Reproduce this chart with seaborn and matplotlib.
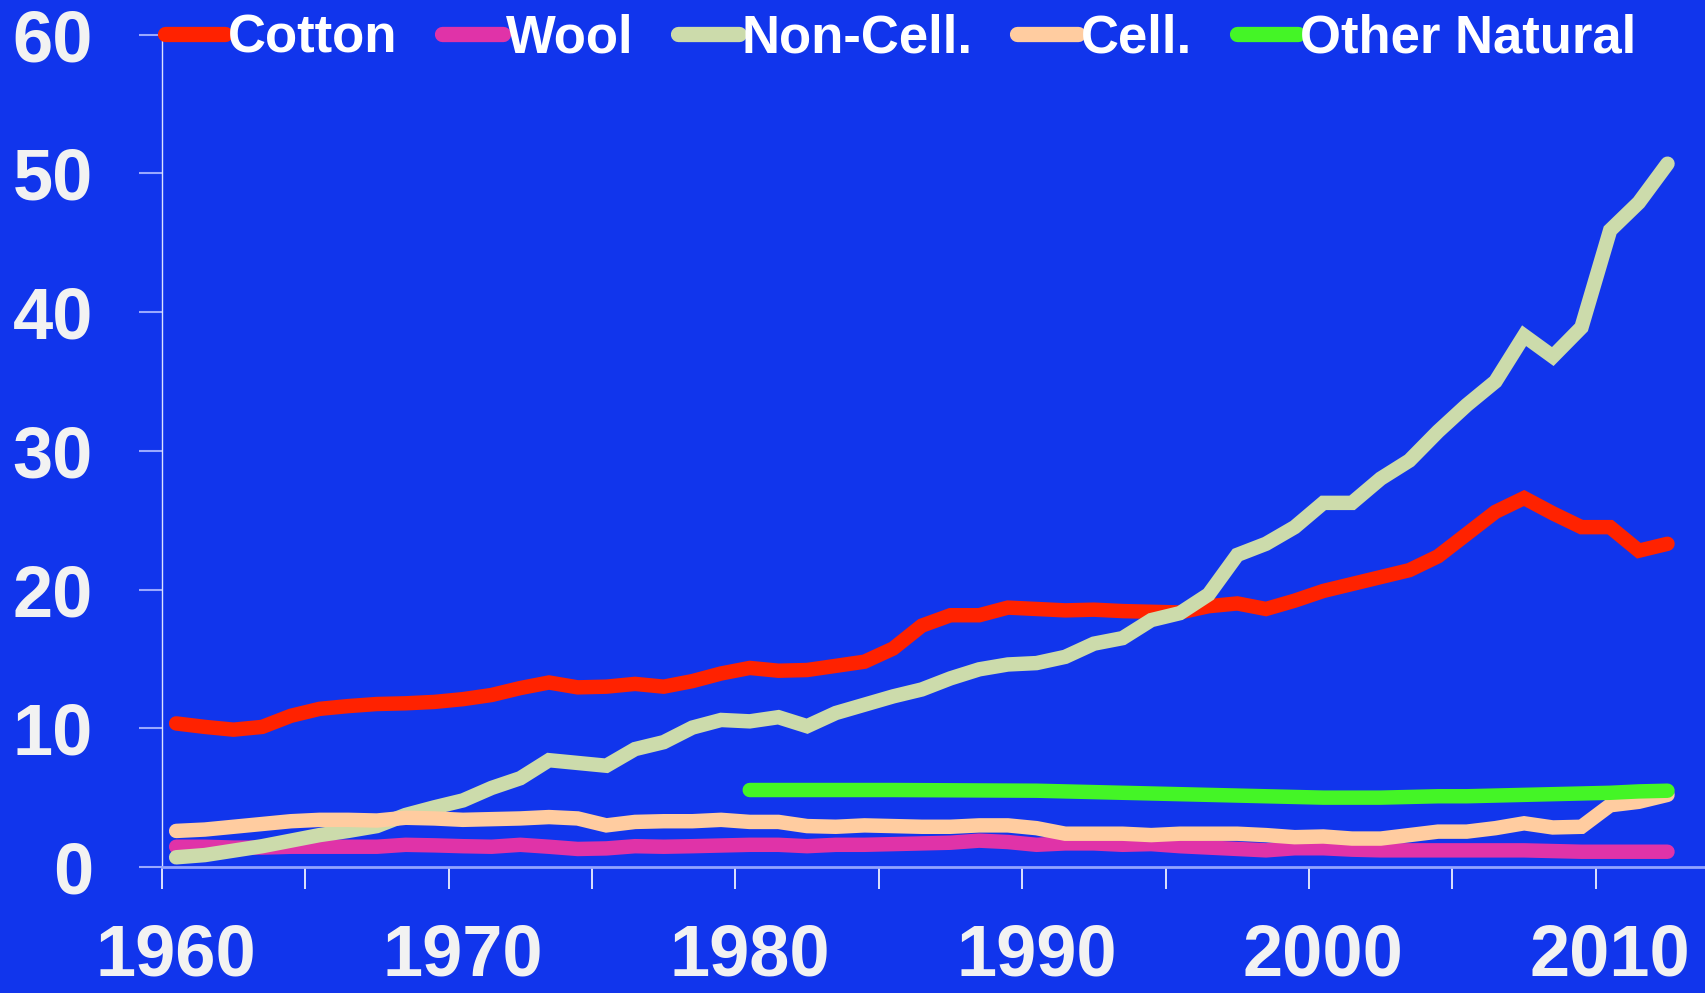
import numpy as np
import pandas as pd
import matplotlib
matplotlib.use("Agg")
import matplotlib.pyplot as plt
from matplotlib.lines import Line2D
from matplotlib.ticker import FixedLocator
import seaborn as sns

years = list(range(1960, 2013))
cotton = [10.35, 10.1, 9.9, 10.1, 10.9, 11.4, 11.6, 11.75, 11.8, 11.9,
          12.1, 12.4, 12.9, 13.3, 12.95, 13.0, 13.2, 13.0, 13.4, 13.95,
          14.35, 14.15, 14.2, 14.5, 14.8, 15.75, 17.4, 18.15, 18.15, 18.7,
          18.6, 18.5, 18.55, 18.45, 18.4, 18.35, 18.8, 19.0, 18.6, 19.2,
          19.9, 20.4, 20.9, 21.4, 22.4, 24.0, 25.6, 26.6, 25.5, 24.5,
          24.5, 22.8, 23.3]
wool = [1.46, 1.46, 1.4, 1.4, 1.46, 1.46, 1.46, 1.46, 1.6, 1.56,
        1.5, 1.46, 1.6, 1.46, 1.3, 1.34, 1.5, 1.46, 1.5, 1.55,
        1.6, 1.6, 1.5, 1.6, 1.6, 1.65, 1.7, 1.75, 1.9, 1.8,
        1.6, 1.7, 1.7, 1.6, 1.65, 1.5, 1.4, 1.3, 1.2, 1.35,
        1.35, 1.25, 1.2, 1.2, 1.2, 1.2, 1.2, 1.2, 1.15, 1.1,
        1.1, 1.1, 1.1]
non_cell = [0.7, 0.86, 1.18, 1.5, 1.9, 2.3, 2.6, 2.95, 3.75, 4.3,
            4.8, 5.7, 6.4, 7.7, 7.5, 7.3, 8.5, 9.0, 10.05, 10.6,
            10.5, 10.8, 10.15, 11.1, 11.7, 12.3, 12.8, 13.6, 14.25, 14.6,
            14.7, 15.15, 16.1, 16.5, 17.8, 18.3, 19.65, 22.5, 23.3, 24.5,
            26.25, 26.25, 28.0, 29.3, 31.4, 33.3, 35.0, 38.3, 36.8, 38.9,
            45.9, 47.9, 50.7]
cell = [2.6, 2.7, 2.9, 3.1, 3.3, 3.4, 3.4, 3.35, 3.55, 3.5,
        3.4, 3.45, 3.5, 3.6, 3.5, 3.0, 3.25, 3.3, 3.3, 3.4,
        3.25, 3.25, 2.95, 2.9, 3.0, 2.95, 2.9, 2.9, 3.0, 3.0,
        2.8, 2.4, 2.4, 2.4, 2.3, 2.4, 2.4, 2.4, 2.3, 2.15,
        2.2, 2.05, 2.05, 2.3, 2.55, 2.55, 2.8, 3.15, 2.85, 2.9,
        4.45, 4.7, 5.2]
other_years = list(range(1980, 2013))
other_natural = [5.55, 5.55, 5.55, 5.55, 5.55, 5.55, 5.54, 5.53, 5.52, 5.51,
                 5.5, 5.45, 5.4, 5.35, 5.3, 5.25, 5.2, 5.15, 5.1, 5.05,
                 5.0, 5.0, 5.0, 5.05, 5.1, 5.1, 5.15, 5.2, 5.25, 5.3,
                 5.35, 5.45, 5.5]

series_names = ["Cotton", "Wool", "Non-Cell.", "Cell.", "Other Natural"]
series_colors = ["#FF2200", "#E033A8", "#CCDBAB", "#FFCCA0", "#44F526"]
y_ticks = [0, 10, 20, 30, 40, 50, 60]
x_labels = [1960, 1970, 1980, 1990, 2000, 2010]

frames = []
for name, xs, ys in [("Cotton", years, cotton), ("Wool", years, wool),
                     ("Non-Cell.", years, non_cell), ("Cell.", years, cell),
                     ("Other Natural", other_years, other_natural)]:
    frames.append(pd.DataFrame({"year": xs, "value": ys, "series": name}))
df = pd.concat(frames, ignore_index=True)

BG = "#1135EC"
TXT = "#F2F2F2"

sns.set_theme(style="white")
plt.rcParams["font.family"] = ["Liberation Sans", "DejaVu Sans"]

fig = plt.figure(figsize=(17.05, 9.93), dpi=100, facecolor=BG)
ax = fig.add_axes([161.8 / 1705, 126 / 993, 1 - 161.8 / 1705, (867 - 34.7) / 993])
ax.set_facecolor(BG)

sns.lineplot(data=df, x="year", y="value", hue="series", hue_order=series_names,
             palette=dict(zip(series_names, series_colors)), linewidth=10.4,
             solid_capstyle="round", solid_joinstyle="miter", legend=False,
             sort=False, estimator=None, ax=ax)

ax.set_xlim(1959.5, 1959.5 + (1705 - 161.8) / 28.68)
ax.set_ylim(0, 60)
ax.set_xlabel("")
ax.set_ylabel("")

for s in ["top", "right"]:
    ax.spines[s].set_visible(False)
ax.spines["left"].set_color("#DCE2FF")
ax.spines["left"].set_linewidth(1.0)
ax.spines["bottom"].set_color("#93A3FF")
ax.spines["bottom"].set_linewidth(2.0)

ax.set_yticks(y_ticks)
ax.set_yticklabels([str(v) for v in y_ticks])
ax.tick_params(axis="y", which="major", left=True, direction="out", length=16.5,
               width=1.5, color="#9AA8FF", pad=33, labelsize=52, labelcolor=TXT)
for lab in ax.get_yticklabels():
    lab.set_fontweight("bold")

ax.set_xticks(x_labels)
ax.set_xticklabels([str(v) for v in x_labels])
ax.xaxis.set_minor_locator(FixedLocator([1959.5 + 5 * i for i in range(11)]))
ax.tick_params(axis="x", which="major", bottom=True, length=0, pad=40,
               labelsize=52, labelcolor=TXT)
ax.tick_params(axis="x", which="minor", bottom=True, direction="out", length=15.5,
               width=1.2, color="#FFFFFF")
for lab in ax.get_xticklabels():
    lab.set_fontweight("bold")
ax.grid(False)

handles = [Line2D([0], [0], color=c, linewidth=11, solid_capstyle="round")
           for c in series_colors]
leg = fig.legend(handles, series_names, loc="upper left",
                 bbox_to_anchor=(164.6 / 1705, 0.986), ncol=5, frameon=False,
                 borderpad=0, borderaxespad=0, handlelength=1.15, handletextpad=0.05,
                 columnspacing=0.85, prop={"size": 38, "weight": "bold"})
for t in leg.get_texts():
    t.set_color("white")

fig.savefig("out.png", dpi=100, facecolor=BG)
